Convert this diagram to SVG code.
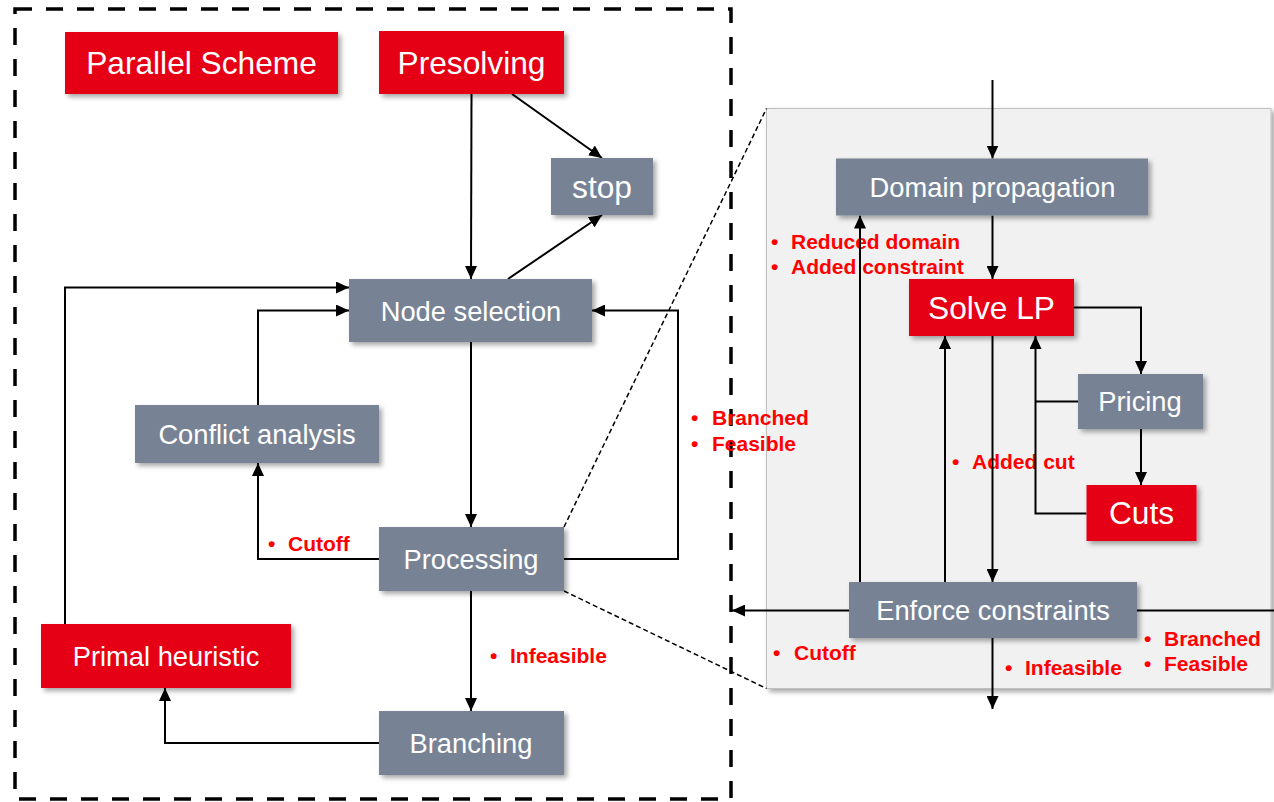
<svg xmlns="http://www.w3.org/2000/svg" width="1274" height="802" viewBox="0 0 1274 802">
  <defs>
    <marker id="arrow" markerUnits="userSpaceOnUse" markerWidth="14" markerHeight="12" refX="13" refY="6" orient="auto">
      <path d="M0,0 L13,6 L0,12 z" fill="#000"/>
    </marker>
    <filter id="shadow" x="-10%" y="-10%" width="130%" height="140%">
      <feDropShadow dx="3" dy="3" stdDeviation="2.5" flood-color="#000" flood-opacity="0.35"/>
    </filter>
    <style>
      .red { fill: #E50014; filter: url(#shadow); }
      .gray { fill: #778395; filter: url(#shadow); }
      .nt { font-family: "Liberation Sans", Arial, sans-serif; fill: #fff; text-anchor: middle; }
      .big { font-size: 31.7px; }
      .mid { font-size: 27.3px; }
      .lb { font-family: "Liberation Sans", Arial, sans-serif; font-weight: bold; font-size: 21px; fill: #FF0000; }
      .ln { fill: none; stroke: #000; stroke-width: 2; }
      .arr { marker-end: url(#arrow); }
      .zoom { fill: none; stroke: #000; stroke-width: 1.5; stroke-dasharray: 5 3; }
    </style>
  </defs>

  <rect width="1274" height="802" fill="#fff"/>

  <!-- detail panel for the processing step -->
  <g id="detail-panel">
    <rect x="766.5" y="108.5" width="504.5" height="580" fill="#F1F1F1" stroke="#BFBFBF" stroke-width="1" filter="url(#shadow)"/>
  </g>

  <!-- outer dashed frame of the main loop -->
  <rect id="main-frame" x="15" y="9" width="716" height="790" fill="none" stroke="#000" stroke-width="3.5" stroke-dasharray="17 14"/>

  <!-- edge labels -->
  <g id="labels">
    <text class="lb" y="425"><tspan x="691">•</tspan><tspan x="712">Branched</tspan></text>
    <text class="lb" y="451"><tspan x="691">•</tspan><tspan x="712">Feasible</tspan></text>
    <text class="lb" y="551"><tspan x="268">•</tspan><tspan x="288">Cutoff</tspan></text>
    <text class="lb" y="663"><tspan x="490">•</tspan><tspan x="510">Infeasible</tspan></text>
    <text class="lb" y="249"><tspan x="771">•</tspan><tspan x="791">Reduced domain</tspan></text>
    <text class="lb" y="274"><tspan x="771">•</tspan><tspan x="791">Added constraint</tspan></text>
    <text class="lb" y="469"><tspan x="952">•</tspan><tspan x="972">Added cut</tspan></text>
    <text class="lb" y="660"><tspan x="773">•</tspan><tspan x="794">Cutoff</tspan></text>
    <text class="lb" y="675"><tspan x="1005">•</tspan><tspan x="1025">Infeasible</tspan></text>
    <text class="lb" y="646"><tspan x="1144">•</tspan><tspan x="1164">Branched</tspan></text>
    <text class="lb" y="671"><tspan x="1144">•</tspan><tspan x="1164">Feasible</tspan></text>
  </g>

  <g id="connectors">
    <!-- zoom guide lines -->
    <line class="zoom" x1="564" y1="527" x2="766.5" y2="108.5"/>
    <line class="zoom" x1="564" y1="591" x2="766.5" y2="688.5"/>

    <!-- main loop -->
    <line class="ln arr" x1="471.5" y1="94" x2="471" y2="279"/>
    <line class="ln arr" x1="512" y1="94" x2="602" y2="158"/>
    <line class="ln arr" x1="508" y1="279" x2="602" y2="215"/>
    <line class="ln arr" x1="471" y1="342" x2="471" y2="527"/>
    <polyline class="ln arr" points="564,559 678,559 678,310.5 592,310.5"/>
    <polyline class="ln arr" points="379,559 258,559 258,463"/>
    <polyline class="ln arr" points="258,405 258,310.5 349,310.5"/>
    <polyline class="ln arr" points="65,624 65,287.5 349,287.5"/>
    <line class="ln arr" x1="471" y1="591" x2="471" y2="711"/>
    <polyline class="ln arr" points="379,743 165,743 165,688"/>

    <!-- processing detail -->
    <line class="ln arr" x1="992.5" y1="80" x2="992.5" y2="158.5"/>
    <line class="ln arr" x1="992.5" y1="215.5" x2="992.5" y2="279"/>
    <polyline class="ln arr" points="1074,307.5 1141,307.5 1141,374"/>
    <line class="ln arr" x1="1141" y1="429" x2="1141" y2="485"/>
    <polyline class="ln" points="1078,401.5 1035.5,401.5"/>
    <polyline class="ln arr" points="1086.5,513.5 1035.5,513.5 1035.5,336"/>
    <line class="ln arr" x1="992.5" y1="336" x2="992.5" y2="582"/>
    <line class="ln arr" x1="945" y1="582" x2="945" y2="336"/>
    <line class="ln arr" x1="860" y1="582" x2="860" y2="215.5"/>
    <line class="ln arr" x1="849" y1="610.5" x2="732" y2="610.5"/>
    <line class="ln" x1="1137" y1="610.5" x2="1274" y2="610.5"/>
    <line class="ln arr" x1="992.5" y1="638" x2="992.5" y2="709"/>
  </g>

  <g id="parallel-scheme">
    <rect class="red" x="65" y="32" width="273" height="62"/>
    <text class="nt big" x="201.5" y="74">Parallel Scheme</text>
  </g>
  <g id="presolving">
    <rect class="red" x="379" y="31" width="185" height="63"/>
    <text class="nt big" x="471.5" y="74">Presolving</text>
  </g>
  <g id="stop">
    <rect class="gray" x="551" y="158" width="102" height="57"/>
    <text class="nt big" x="602" y="197.5">stop</text>
  </g>
  <g id="node-selection">
    <rect class="gray" x="349" y="279" width="243" height="63"/>
    <text class="nt mid" x="471" y="320.5">Node selection</text>
  </g>
  <g id="conflict-analysis">
    <rect class="gray" x="135" y="405" width="244" height="58"/>
    <text class="nt mid" x="257" y="443.5">Conflict analysis</text>
  </g>
  <g id="processing">
    <rect class="gray" x="379" y="527" width="185" height="64"/>
    <text class="nt mid" x="471" y="568.5">Processing</text>
  </g>
  <g id="primal-heuristic">
    <rect class="red" x="41" y="624" width="250" height="64"/>
    <text class="nt mid" x="166" y="665.5">Primal heuristic</text>
  </g>
  <g id="branching">
    <rect class="gray" x="379" y="711" width="185" height="64"/>
    <text class="nt mid" x="471" y="752.5">Branching</text>
  </g>

  <g id="domain-propagation">
    <rect class="gray" x="836" y="158.5" width="312" height="57"/>
    <text class="nt mid" x="992.5" y="196.5">Domain propagation</text>
  </g>
  <g id="solve-lp">
    <rect class="red" x="909" y="279" width="165" height="57"/>
    <text class="nt big" x="991.5" y="318.5">Solve LP</text>
  </g>
  <g id="pricing">
    <rect class="gray" x="1078" y="374" width="125" height="55"/>
    <text class="nt mid" x="1140" y="411">Pricing</text>
  </g>
  <g id="cuts">
    <rect class="red" x="1086.5" y="485" width="110" height="56"/>
    <text class="nt big" x="1141.5" y="524">Cuts</text>
  </g>
  <g id="enforce-constraints">
    <rect class="gray" x="849" y="582" width="288" height="56"/>
    <text class="nt mid" x="993" y="619.5">Enforce constraints</text>
  </g>
</svg>
